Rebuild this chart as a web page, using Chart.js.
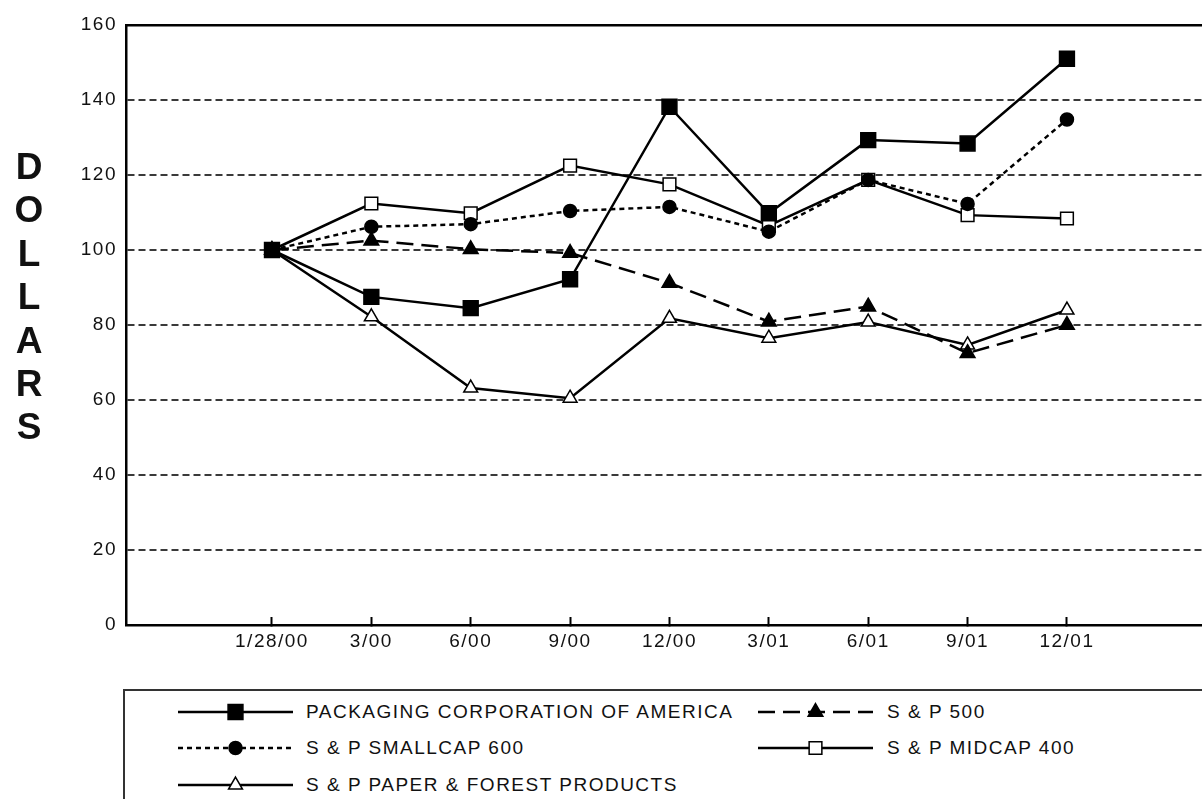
<!DOCTYPE html>
<html>
<head>
<meta charset="utf-8">
<script src="https://cdn.jsdelivr.net/npm/chart.js@4.4.1/dist/chart.umd.min.js"></script>
<style>
  html, body { margin: 0; padding: 0; background: #fff; overflow: hidden; }
  #wrap { position: relative; width: 1202px; height: 799px; overflow: hidden;
          font-family: "Liberation Sans", Arial, sans-serif; color: #111; }
  #scoreChart { position: absolute; left: 0; top: 0; }
  #yTitle { position: absolute; left: 0; top: 145px; width: 58px; text-align: center;
            font-weight: bold; font-size: 37px; line-height: 43.4px; }
  #legendBox { position: absolute; left: 123px; top: 689px; width: 1120px; height: 140px;
               border: 2px solid #333; }
  .sample { position: absolute; }
  .label { position: absolute; white-space: nowrap; font-size: 19px; letter-spacing: 1.5px;
           line-height: 24px; }
</style>
</head>
<body>
<div id="wrap">
  <canvas id="scoreChart" width="1202" height="680"></canvas>
  <div id="yTitle">D<br>O<br>L<br>L<br>A<br>R<br>S</div>
  <div id="legendBox"></div>
</div>
<script>
// Data
const xLabels = ['1/28/00', '3/00', '6/00', '9/00', '12/00', '3/01', '6/01', '9/01', '12/01'];
const yTicks = [0, 20, 40, 60, 80, 100, 120, 140, 160];

const pca      = [100, 87.5, 84.5, 92.2, 138.2, 109.8, 129.3, 128.4, 151];
const sp500    = [100, 102.5, 100.2, 99.2, 91.2, 80.9, 84.9, 72.5, 80];
const smallcap = [100, 106.2, 106.9, 110.4, 111.5, 104.9, 118.7, 112.3, 134.8];
const midcap   = [100, 112.4, 109.8, 122.5, 117.5, 106.5, 118.7, 109.3, 108.4];
const paper    = [100, 82.2, 63.2, 60.5, 81.8, 76.5, 80.8, 74.7, 84];

const series = [
  { label: 'PACKAGING CORPORATION OF AMERICA', data: pca, dash: [], style: 'rect', radius: 10.5, fill: '#000' },
  { label: 'S & P 500', data: sp500, dash: [17, 8], style: 'triangle', radius: 8.5, fill: '#000' },
  { label: 'S & P SMALLCAP 600', data: smallcap, dash: [5, 4], style: 'circle', radius: 6.5, fill: '#000' },
  { label: 'S & P MIDCAP 400', data: midcap, dash: [], style: 'rect', radius: 9, fill: '#fff' },
  { label: 'S & P PAPER & FOREST PRODUCTS', data: paper, dash: [], style: 'triangle', radius: 8, fill: '#fff' }
];

// legend slots: [sample left, text left, row centre]
const legendSlots = [[178, 306, 712], [758, 887, 712], [178, 306, 748], [758, 887, 748], [178, 306, 785]];

const X_MIN = -1.469, X_MAX = 9.359;

Chart.defaults.font.family = '"Liberation Sans", Arial, sans-serif';
Chart.defaults.font.size = 19;
Chart.defaults.color = '#111';

// wider text like the scanned original
const spacing = {
  id: 'spacing',
  beforeLayout(chart) { chart.ctx.letterSpacing = '1.5px'; },
  beforeDraw(chart) { chart.ctx.letterSpacing = '1.5px'; }
};

const noSidePad = s => { s.paddingLeft = 0; s.paddingRight = 0; };

const ctx = document.getElementById('scoreChart').getContext('2d');

const chart = new Chart(ctx, {
  type: 'line',
  data: {
    datasets: series.map(s => ({
      label: s.label,
      data: s.data.map((v, i) => ({ x: i, y: v })),
      borderColor: '#000',
      borderWidth: 2.5,
      borderDash: s.dash,
      tension: 0,
      pointStyle: s.style,
      pointRadius: s.radius,
      pointBackgroundColor: s.fill,
      pointBorderColor: '#000',
      pointBorderWidth: 1.5
    }))
  },
  options: {
    responsive: false,
    animation: false,
    events: [],
    layout: { autoPadding: false, padding: { top: 25, left: 0, right: 0, bottom: 0 } },
    plugins: { legend: { display: false }, tooltip: { enabled: false } },
    scales: {
      x: {
        type: 'linear',
        min: X_MIN,
        max: X_MAX,
        afterBuildTicks: s => { s.ticks = xLabels.map((l, i) => ({ value: i })); },
        afterFit: s => { s.height = 55; noSidePad(s); },
        ticks: {
          autoSkip: false,
          maxRotation: 0,
          padding: 13,
          callback: v => xLabels[v]
        },
        grid: { drawOnChartArea: false, drawTicks: true, tickLength: -8, tickWidth: 2, tickColor: '#000' },
        border: { display: true, color: '#000', width: 2.5 }
      },
      x2: {
        type: 'linear',
        position: 'top',
        min: X_MIN,
        max: X_MAX,
        afterBuildTicks: s => { s.ticks = []; },
        afterFit: s => { s.height = 0; noSidePad(s); },
        ticks: { display: false },
        grid: { display: false },
        border: { display: true, color: '#000', width: 2.5 }
      },
      y: {
        min: 0,
        max: 160,
        afterBuildTicks: s => { s.ticks = yTicks.map(v => ({ value: v })); },
        afterFit: s => { s.width = 126; },
        ticks: { padding: 9 },
        grid: {
          drawTicks: false,
          lineWidth: 2,
          color: c => (c.tick.value === 0 || c.tick.value === 160) ? 'rgba(0,0,0,0)' : '#3a3a3a'
        },
        border: { display: true, color: '#000', width: 2.5, dash: [7, 4] }
      }
    }
  },
  plugins: [spacing]
});

// HTML legend built from the datasets
const wrap = document.getElementById('wrap');
chart.data.datasets.forEach((ds, i) => {
  const [sx, tx, cy] = legendSlots[i];
  const c = document.createElement('canvas');
  c.width = 115; c.height = 24;
  c.className = 'sample';
  c.style.left = sx + 'px';
  c.style.top = (cy - 12) + 'px';
  const g = c.getContext('2d');
  g.strokeStyle = '#000';
  g.lineWidth = 2.5;
  g.setLineDash(ds.borderDash);
  g.beginPath();
  g.moveTo(0, 12);
  g.lineTo(115, 12);
  g.stroke();
  g.setLineDash([]);
  g.fillStyle = ds.pointBackgroundColor;
  g.lineWidth = ds.pointBorderWidth;
  Chart.helpers.drawPoint(g, { pointStyle: ds.pointStyle, radius: ds.pointRadius, borderWidth: ds.pointBorderWidth, rotation: 0 }, 57.5, 12);
  wrap.appendChild(c);

  const t = document.createElement('div');
  t.className = 'label';
  t.textContent = ds.label;
  t.style.left = tx + 'px';
  t.style.top = (cy - 12) + 'px';
  wrap.appendChild(t);
});
</script>
</body>
</html>
